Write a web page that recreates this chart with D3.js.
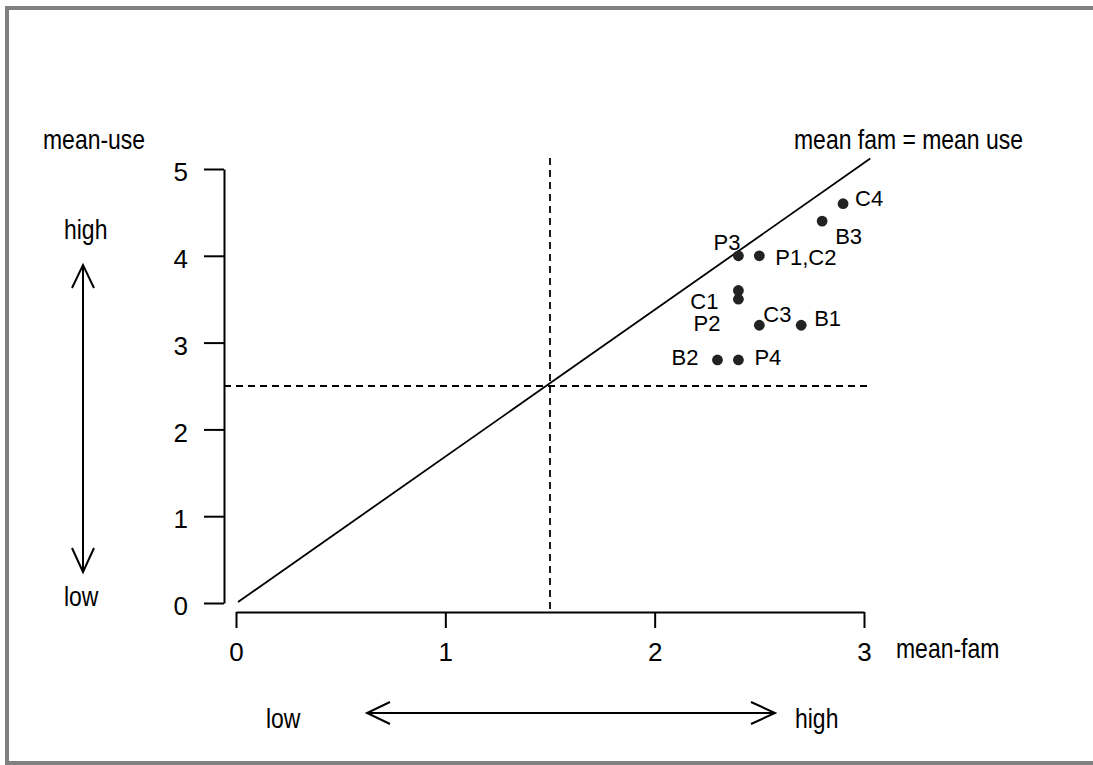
<!DOCTYPE html>
<html>
<head>
<meta charset="utf-8">
<script src="https://cdn.jsdelivr.net/npm/d3@7"></script>
<style>
  body { margin: 0; background: #fff; }
  svg { display: block; }
  .narrow { font-family: "Liberation Sans Narrow", "Arial Narrow", "Liberation Sans", Arial, sans-serif; font-size: 28px; }
  .tick text { font-family: "Liberation Sans", Arial, sans-serif; font-size: 26px; fill: #000; }
  .ptlabel { font-family: "Liberation Sans", Arial, sans-serif; font-size: 22px; }
</style>
</head>
<body>
<svg id="chart" width="1093" height="765"></svg>
<script>
// points
const names = ["C4", "B3", "P3", "P1,C2", "C1", "P2", "C3", "B1", "B2", "P4"];
const meanFam = [2.9, 2.8, 2.4, 2.5, 2.4, 2.4, 2.5, 2.7, 2.3, 2.4];
const meanUse = [4.6, 4.4, 4.0, 4.0, 3.6, 3.5, 3.2, 3.2, 2.8, 2.8];

const xTicks = [0, 1, 2, 3];
const yTicks = [0, 1, 2, 3, 4, 5];
const refFam = 1.5;   // vertical dashed line
const refUse = 2.5;   // horizontal dashed line
const diag = [[0, 0], [3.03, 5.12]];   // mean fam = mean use

// label placement next to each point (px)
const labelPos = {
  "C4":    { dx: 12,  dy: 2,  anchor: "start" },
  "B3":    { dx: 13,  dy: 23, anchor: "start" },
  "P3":    { dx: 2,   dy: -6, anchor: "end" },
  "P1,C2": { dx: 16,  dy: 9,  anchor: "start" },
  "C1":    { dx: -20, dy: 18, anchor: "end" },
  "P2":    { dx: -18, dy: 32, anchor: "end" },
  "C3":    { dx: 4,   dy: -3, anchor: "start" },
  "B1":    { dx: 13,  dy: 1,  anchor: "start" },
  "B2":    { dx: -19, dy: 5,  anchor: "end" },
  "P4":    { dx: 16,  dy: 5,  anchor: "start" }
};

const svg = d3.select("#chart");

// grey frame
svg.append("rect")
    .attr("x", 7).attr("y", 8)
    .attr("width", 1100).attr("height", 755)
    .attr("fill", "none")
    .attr("stroke", "#808080")
    .attr("stroke-width", 4);

const x = d3.scaleLinear().domain([0, 3]).range([236, 864]);
const y = d3.scaleLinear().domain([0, 5]).range([603, 169]);

const xAxis = d3.axisBottom(x)
    .tickValues(xTicks)
    .tickFormat(d3.format("d"))
    .tickSize(16)
    .tickSizeOuter(0)
    .tickPadding(15);

const yAxis = d3.axisLeft(y)
    .tickValues(yTicks)
    .tickFormat(d3.format("d"))
    .tickSize(20)
    .tickSizeOuter(0)
    .tickPadding(16);

const xAxisG = svg.append("g")
    .attr("transform", "translate(0,612)")
    .call(xAxis);

const yAxisG = svg.append("g")
    .attr("transform", "translate(224,0)")
    .call(yAxis);

yAxisG.selectAll(".tick text").attr("dy", "0.45em");

[xAxisG, yAxisG].forEach(g => {
  g.selectAll("path, line").attr("stroke", "#000").attr("stroke-width", 2);
});

// reference lines
svg.append("line")
    .attr("x1", x(refFam)).attr("x2", x(refFam))
    .attr("y1", 158).attr("y2", 612)
    .attr("stroke", "#000")
    .attr("stroke-width", 1.8)
    .attr("stroke-dasharray", "7,5");

svg.append("line")
    .attr("x1", 224).attr("x2", 872)
    .attr("y1", y(refUse)).attr("y2", y(refUse))
    .attr("stroke", "#000")
    .attr("stroke-width", 1.8)
    .attr("stroke-dasharray", "7,5");

svg.append("line")
    .attr("x1", x(diag[0][0]) + 2).attr("y1", y(diag[0][1]) - 1)
    .attr("x2", x(diag[1][0])).attr("y2", y(diag[1][1]))
    .attr("stroke", "#000")
    .attr("stroke-width", 1.8);

// points
const pts = names.map((n, i) => ({ name: n, fam: meanFam[i], use: meanUse[i] }));

svg.append("g")
  .selectAll("circle")
  .data(pts)
  .enter().append("circle")
    .attr("cx", d => x(d.fam))
    .attr("cy", d => y(d.use))
    .attr("r", 5.4)
    .attr("fill", "#222");

svg.append("g")
  .selectAll("text")
  .data(pts)
  .enter().append("text")
    .attr("class", "ptlabel")
    .attr("x", d => x(d.fam) + labelPos[d.name].dx)
    .attr("y", d => y(d.use) + labelPos[d.name].dy)
    .attr("text-anchor", d => labelPos[d.name].anchor)
    .text(d => d.name);

// annotations (condensed, like Helvetica Narrow)
const notes = [
  { t: "mean-use", x: 43, y: 149 },
  { t: "mean fam = mean use", x: 794, y: 149 },
  { t: "high", x: 64, y: 239 },
  { t: "low", x: 64, y: 606 },
  { t: "mean-fam", x: 896, y: 658 },
  { t: "low", x: 266, y: 728 },
  { t: "high", x: 795, y: 728 }
];

svg.append("g")
  .selectAll("text")
  .data(notes)
  .enter().append("text")
    .attr("class", "narrow")
    .attr("transform", d => `translate(${d.x},${d.y}) scale(0.82,1)`)
    .text(d => d.t);

// double arrows
const arrows = svg.append("g")
    .attr("fill", "none")
    .attr("stroke", "#000")
    .attr("stroke-width", 2);

arrows.append("path").attr("d", "M83,265 L83,572");
arrows.append("path").attr("d", "M72,288 L83,265 L94,288");
arrows.append("path").attr("d", "M72,548 L83,572 L94,548");

arrows.append("path").attr("d", "M367,713 L775,713");
arrows.append("path").attr("d", "M390,702 L367,713 L390,724");
arrows.append("path").attr("d", "M751,702 L775,713 L751,724");
</script>
</body>
</html>
